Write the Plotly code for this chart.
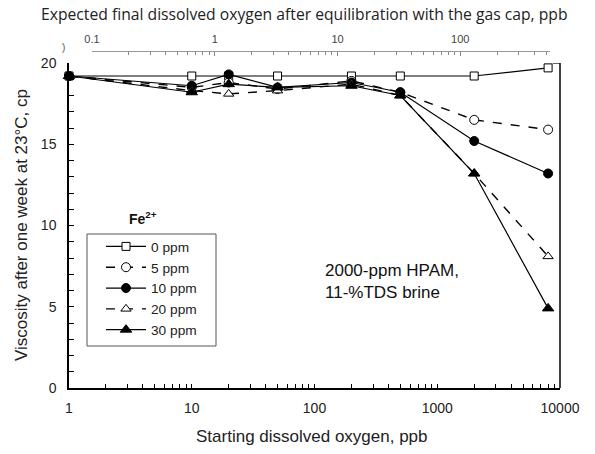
import plotly.graph_objects as go

# ---- data ----
starting_o2 = [1, 10, 20, 50, 200, 500, 2000, 8000]
fe_0ppm = [19.2, 19.2, 19.2, 19.2, 19.2, 19.2, 19.2, 19.7]
fe_5ppm = [19.2, 18.5, 18.8, 18.4, 18.9, 18.2, 16.5, 15.9]
fe_10ppm = [19.2, 18.6, 19.3, 18.5, 18.8, 18.2, 15.2, 13.2]
fe_20ppm = [19.2, 18.3, 18.1, 18.3, 18.7, 18.0, 13.2, 8.1]
fe_30ppm = [19.2, 18.2, 18.7, 18.5, 18.6, 18.0, 13.2, 4.9]
series_names = ["0 ppm", "5 ppm", "10 ppm", "20 ppm", "30 ppm"]
bottom_ticks = [1, 10, 100, 1000, 10000]
top_ticks = [0.1, 1, 10, 100]
bottom_minor = [m * 10 ** k for k in range(0, 4) for m in range(2, 10)]
top_minor = [m * 10 ** k for k in range(-1, 3) for m in range(2, 10) if m * 10 ** k < 560]

ARIAL = "Liberation Sans, Arial, sans-serif"
W, H = 595, 454
ML, MR, MT, MB = 69, 35, 25, 66
PW = W - ML - MR
PH = H - MT - MB
def px_x(p):
    return (p - ML) / PW
def px_y(p):
    return (H - MB - p) / PH

ydom_top = px_y(63)

styles = [
    dict(symbol="square", fill="white", dash="solid", width=1.2, size=8),
    dict(symbol="circle", fill="white", dash="dash", width=1.4, size=9),
    dict(symbol="circle", fill="black", dash="solid", width=1.2, size=9),
    dict(symbol="triangle-up", fill="white", dash="dash", width=1.4, size=9),
    dict(symbol="triangle-up", fill="black", dash="solid", width=1.2, size=10),
]
values = [fe_0ppm, fe_5ppm, fe_10ppm, fe_20ppm, fe_30ppm]

fig = go.Figure()
for name, vals, st in zip(series_names, values, styles):
    fig.add_trace(go.Scatter(
        x=starting_o2, y=vals, name=name, mode="lines+markers",
        line=dict(color="black", width=st["width"], dash=st["dash"]),
        marker=dict(symbol=st["symbol"], size=st["size"], color=st["fill"],
                    line=dict(color="black", width=1)),
        cliponaxis=False,
    ))

fig.update_layout(
    width=W, height=H,
    margin=dict(l=ML, r=MR, t=MT, b=MB),
    paper_bgcolor="white", plot_bgcolor="rgba(0,0,0,0)",
    font=dict(family=ARIAL, size=14, color="#222"),
    showlegend=True,
    legend=dict(x=px_x(101), y=px_y(231), xanchor="left", yanchor="top",
                bgcolor="rgba(0,0,0,0)", borderwidth=0,
                font=dict(family=ARIAL, size=13.7, color="#222"),
                itemwidth=40, tracegroupgap=0),
    xaxis=dict(type="log", range=[0, 4], domain=[0, 1],
               tickvals=bottom_ticks, ticktext=[str(v) for v in bottom_ticks],
               ticks="inside", ticklen=4, tickcolor="black", tickwidth=1,
               minor=dict(tickmode="array", tickvals=bottom_minor, ticks="inside",
                          ticklen=4, tickcolor="black", showgrid=False),
               showline=True, linecolor="black", linewidth=1.5,
               showgrid=False, zeroline=False,
               tickfont=dict(size=14, color="#222"), ticklabelstandoff=6),
    xaxis2=dict(type="log", range=[-1, 2.731], domain=[px_x(92), px_x(550)],
                side="top", anchor="free", position=px_y(51),
                tickvals=top_ticks, ticktext=[str(v) for v in top_ticks],
                ticks="inside", ticklen=4, tickcolor="#888", tickwidth=1,
                minor=dict(tickmode="array", tickvals=top_minor, ticks="inside",
                           ticklen=3, tickcolor="#888", showgrid=False),
                showline=True, linecolor="#999", linewidth=1,
                showgrid=False, zeroline=False,
                tickfont=dict(size=11, color="#444"), ticklabelstandoff=4),
    yaxis=dict(range=[0, 20], domain=[0, ydom_top], dtick=5,
               ticks="inside", ticklen=5, tickcolor="black", tickwidth=1,
               minor=dict(dtick=1, ticks="inside", ticklen=5, tickcolor="black", showgrid=False),
               showline=True, linecolor="black", linewidth=1.5,
               showgrid=False, zeroline=False,
               tickfont=dict(size=14, color="#222"), ticklabelstandoff=8),
)

# invisible helper trace so the top axis is drawn
fig.add_trace(go.Scatter(x=[0.1], y=[None], xaxis="x2", yaxis="y",
                         showlegend=False, hoverinfo="skip", mode="markers",
                         marker=dict(opacity=0)))

# right frame and top-right stub
fig.add_shape(type="line", xref="x domain", yref="y", x0=1, x1=1, y0=0, y1=20,
              line=dict(color="black", width=1.5))
fig.add_shape(type="line", xref="x domain", yref="y", x0=0.985, x1=1, y0=20, y1=20,
              line=dict(color="black", width=1.2))
# legend box
fig.add_shape(type="rect", xref="paper", yref="paper",
              x0=px_x(87), x1=px_x(216), y0=px_y(346), y1=px_y(234),
              line=dict(color="#555", width=1), fillcolor="rgba(0,0,0,0)", layer="below")

anns = [
    dict(text="Expected final dissolved oxygen after equilibration with the gas cap, ppb",
         x=px_x(304), y=px_y(14), font=dict(family="Open Sans", size=15.7, color="#222")),
    dict(text="Starting dissolved oxygen, ppb", x=px_x(312), y=px_y(436),
         font=dict(family=ARIAL, size=17, color="#222")),
    dict(text="Viscosity after one week at 23°C, cp", x=px_x(21), y=px_y(225), textangle=-90,
         font=dict(family=ARIAL, size=17, color="#222")),
    dict(text="<b>Fe<sup>2+</sup></b>", x=px_x(143), y=px_y(218),
         font=dict(family=ARIAL, size=14, color="#111")),
    dict(text="2000-ppm HPAM,<br>11-%TDS brine", x=px_x(323), y=px_y(281), xanchor="left",
         align="left", font=dict(family=ARIAL, size=17, color="#111")),
    dict(text=")", x=px_x(63), y=px_y(48), font=dict(family=ARIAL, size=10, color="#555")),
]
for a in anns:
    a.setdefault("xanchor", "center")
    fig.add_annotation(xref="paper", yref="paper", showarrow=False, yanchor="middle", **a)

fig.write_html("out.html")
